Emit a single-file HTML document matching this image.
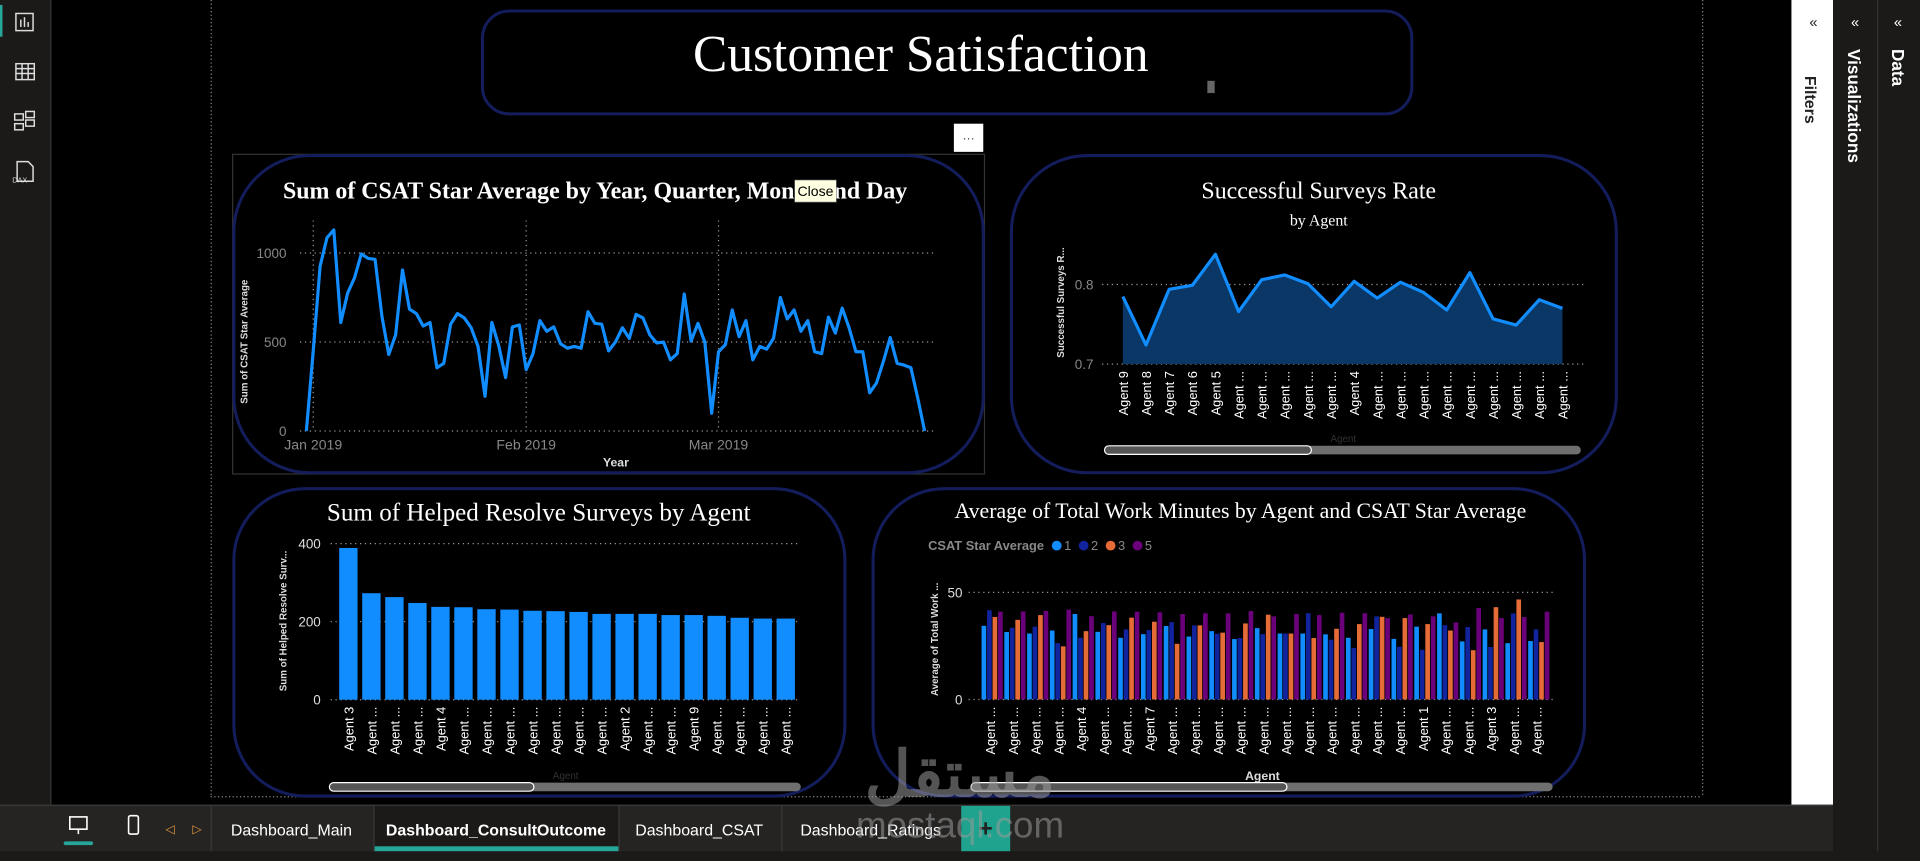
<!DOCTYPE html>
<html><head><meta charset="utf-8">
<style>
html,body{margin:0;padding:0;background:#000;overflow:hidden}
svg{display:block}
text{font-family:"Liberation Sans",sans-serif}
.serif{font-family:"Liberation Serif",serif}
.narrow{font-family:"Liberation Sans Narrow","Liberation Sans",sans-serif}
</style></head>
<body>
<svg id="root" width="1920" height="861" viewBox="0 0 1568 703" preserveAspectRatio="none" xmlns="http://www.w3.org/2000/svg">
  <rect x="0" y="0" width="1568" height="703" fill="#000"/>
  <g>
    <rect x="0" y="0" width="41" height="657" fill="#1b1a19"/>
    <rect x="41" y="0" width="1" height="657" fill="#3b3a39"/>
    <rect x="0" y="4" width="2" height="26" fill="#26a69a"/>
    <g stroke="#ddd" fill="none" stroke-width="1.2"><rect x="13" y="11" width="14" height="14"/><line x1="17" y1="22" x2="17" y2="16"/><line x1="20" y1="22" x2="20" y2="14"/><line x1="23" y1="22" x2="23" y2="18"/></g>
    <g stroke="#ddd" fill="none" stroke-width="1.2"><rect x="13" y="52" width="15" height="13"/><line x1="13" y1="56" x2="28" y2="56"/><line x1="13" y1="60" x2="28" y2="60"/><line x1="18" y1="52" x2="18" y2="65"/><line x1="23" y1="52" x2="23" y2="65"/></g>
    <g stroke="#ddd" fill="none" stroke-width="1.2"><rect x="12" y="93" width="7" height="5"/><rect x="21" y="91" width="7" height="5"/><rect x="21" y="98" width="7" height="5"/><rect x="12" y="101" width="7" height="5"/></g>
    <g><path d="M14 132h9l4 4v12h-13z" stroke="#ddd" fill="none" stroke-width="1.2"/><text x="10" y="149" font-size="6" fill="#ddd">DAX</text></g>
  </g>
  <g stroke="#888" stroke-dasharray="1,2" stroke-width="1">
    <line x1="172.5" y1="0" x2="172.5" y2="650"/>
    <line x1="1390.5" y1="0" x2="1390.5" y2="650"/>
    <line x1="172" y1="650.5" x2="1390" y2="650.5"/>
  </g>
  <g>
    <rect x="394" y="9" width="759" height="84" rx="22" fill="#000" stroke="#141d5c" stroke-width="2.5"/>
    <text class="serif" x="752" y="58" font-size="42" fill="#fff" text-anchor="middle">Customer Satisfaction</text>
    <rect x="986" y="66" width="6" height="10" fill="#666"/>
  </g>
  <g><rect x="779" y="101" width="24" height="23" fill="#fff"/><text x="791" y="116" font-size="10" fill="#333" text-anchor="middle">···</text></g>

  <rect x="190" y="126" width="614" height="261" fill="none" stroke="#333" stroke-width="1"/>
  <rect x="191" y="127" width="612" height="259" rx="62" fill="none" stroke="#141d5c" stroke-width="2.5"/>
  <rect x="826" y="127" width="494" height="259" rx="62" fill="none" stroke="#141d5c" stroke-width="2.5"/>
  <rect x="191" y="399" width="499" height="251" rx="58" fill="none" stroke="#141d5c" stroke-width="2.5"/>
  <rect x="713" y="399" width="581" height="251" rx="58" fill="none" stroke="#141d5c" stroke-width="2.5"/>

  <text class="serif" x="486" y="162" font-size="19.5" font-weight="bold" fill="#fff" text-anchor="middle">Sum of CSAT Star Average by Year, Quarter, Month and Day</text>
  <g><rect x="649" y="147" width="34" height="18" fill="#ffffe1" stroke="#777" stroke-width="0.5"/><text x="666" y="160" font-size="11.5" fill="#000" text-anchor="middle">Close</text></g>

  <text class="serif" x="1077" y="162" font-size="19.5" fill="#fff" text-anchor="middle">Successful Surveys Rate</text>
  <text class="serif" x="1077" y="184" font-size="13" fill="#fff" text-anchor="middle">by Agent</text>

  <text class="serif" x="440" y="425" font-size="20.5" fill="#fff" text-anchor="middle">Sum of Helped Resolve Surveys by Agent</text>
  <text class="serif" x="1013" y="423" font-size="17.8" fill="#fff" text-anchor="middle">Average of Total Work Minutes by Agent and CSAT Star Average</text>

  <g id="c1"></g><g id="c2"></g><g id="c3"></g><g id="c4"></g>

  <g><rect x="902" y="364" width="389" height="7" rx="3.5" fill="#6f6f6f"/><rect x="902" y="364" width="169" height="7" rx="3.5" fill="#555" stroke="#fff" stroke-width="1"/></g>
  <text x="1097" y="361" font-size="8" fill="#333" text-anchor="middle">Agent</text>
  <g><rect x="269" y="639" width="385" height="7" rx="3.5" fill="#6f6f6f"/><rect x="269" y="639" width="167" height="7" rx="3.5" fill="#555" stroke="#fff" stroke-width="1"/></g>
  <text x="462" y="636" font-size="8" fill="#333" text-anchor="middle">Agent</text>
  <g><rect x="793" y="639" width="475" height="7" rx="3.5" fill="#6f6f6f"/><rect x="793" y="639" width="258" height="7" rx="3.5" fill="#555" stroke="#fff" stroke-width="1"/></g>

  <g>
    <rect x="1463" y="0" width="34" height="658" fill="#fff"/>
    <text x="1481" y="22" font-size="12" fill="#222" text-anchor="middle">«</text>
    <text x="1474" y="62" font-size="13" font-weight="bold" fill="#222" transform="rotate(90 1474 62)">Filters</text>
  </g>
  <g>
    <rect x="1497" y="0" width="36" height="703" fill="#1b1a19"/>
    <rect x="1533" y="0" width="1" height="703" fill="#3b3a39"/>
    <text x="1515" y="22" font-size="12" fill="#fff" text-anchor="middle">«</text>
    <text x="1509" y="40" font-size="14" font-weight="bold" fill="#fff" transform="rotate(90 1509 40)">Visualizations</text>
  </g>
  <g>
    <rect x="1534" y="0" width="34" height="703" fill="#1b1a19"/>
    <text x="1550" y="22" font-size="12" fill="#fff" text-anchor="middle">«</text>
    <text x="1545" y="40" font-size="14" font-weight="bold" fill="#fff" transform="rotate(90 1545 40)">Data</text>
  </g>

  <g>
    <rect x="0" y="657" width="1497" height="39" fill="#252423"/>
    <rect x="0" y="695" width="1568" height="8" fill="#1b1a19"/>
    <rect x="0" y="657" width="1497" height="1" fill="#3b3a39"/>
    <g stroke="#fff" fill="none" stroke-width="1.3"><rect x="57" y="667" width="14" height="10"/><line x1="64" y1="677" x2="64" y2="681"/></g>
    <rect x="52" y="687" width="24" height="3" rx="1.5" fill="#26a69a"/>
    <g><rect x="105" y="666" width="8" height="15" rx="1.5" stroke="#fff" fill="none" stroke-width="1.3"/></g>
    <text x="139" y="680" font-size="10" fill="#e89a3c" text-anchor="middle">◁</text>
    <text x="161" y="680" font-size="10" fill="#e89a3c" text-anchor="middle">▷</text>
    <rect x="172" y="658" width="1" height="37" fill="#3b3a39"/>
    <rect x="305" y="658" width="1" height="37" fill="#3b3a39"/>
    <rect x="505" y="658" width="1" height="37" fill="#3b3a39"/>
    <rect x="638" y="658" width="1" height="37" fill="#3b3a39"/>
    <text class="narrow" x="238" y="682" font-size="13" fill="#fff" text-anchor="middle">Dashboard_Main</text>
    <rect x="306" y="658" width="199" height="37" fill="#1b1a19"/>
    <text class="narrow" x="405" y="682" font-size="13" font-weight="bold" fill="#fff" text-anchor="middle">Dashboard_ConsultOutcome</text>
    <rect x="306" y="691" width="199" height="4" fill="#26a69a"/>
    <text class="narrow" x="571" y="682" font-size="13" fill="#fff" text-anchor="middle">Dashboard_CSAT</text>
    <text class="narrow" x="711" y="682" font-size="13" fill="#fff" text-anchor="middle">Dashboard_Ratings</text>
    <g><rect x="785" y="658" width="40" height="37" fill="#1fa38e"/><text x="805" y="683" font-size="20" font-weight="bold" fill="#222" text-anchor="middle">+</text></g>
  </g>
  <g opacity="0.55">
    <text x="784" y="650" font-size="52" font-weight="bold" fill="#9a9a9a" text-anchor="middle" font-family="'Liberation Sans','DejaVu Sans',sans-serif">مستقل</text>
    <text class="narrow" x="784" y="684" font-size="30" fill="#9a9a9a" text-anchor="middle">mostaql.com</text>
  </g>
</svg>
<script>
const c1Values = [0,450,925,1085,1130,610,775,860,995,970,965,645,430,540,905,685,660,590,610,355,380,600,660,635,580,475,195,610,480,300,585,595,345,435,620,560,585,490,465,475,465,670,605,600,450,500,580,520,655,635,540,495,500,400,435,770,505,605,500,100,445,485,680,530,620,400,475,460,520,750,630,680,560,620,445,435,640,550,690,580,445,445,215,270,390,525,380,370,355,185,0];
const c1Ticks = [0,500,1000];
const c1XLabels = ["Jan 2019","Feb 2019","Mar 2019"];
const c1XLabelDays = [1,32,60];
const c2Agents = ["Agent 9","Agent 8","Agent 7","Agent 6","Agent 5","Agent ...","Agent ...","Agent ...","Agent ...","Agent ...","Agent 4","Agent ...","Agent ...","Agent ...","Agent ...","Agent ...","Agent ...","Agent ...","Agent ...","Agent ..."];
const c2Values = [0.785,0.724,0.794,0.799,0.838,0.766,0.806,0.812,0.801,0.772,0.804,0.783,0.803,0.790,0.768,0.815,0.757,0.749,0.781,0.770];
const c2Ticks = [0.7,0.8];
const c3Agents = ["Agent 3","Agent ...","Agent ...","Agent ...","Agent 4","Agent ...","Agent ...","Agent ...","Agent ...","Agent ...","Agent ...","Agent ...","Agent 2","Agent ...","Agent ...","Agent 9","Agent ...","Agent ...","Agent ...","Agent ..."];
const c3Values = [389,273,263,248,238,237,232,231,228,227,225,220,220,220,217,217,215,210,208,208];
const c3Ticks = [0,200,400];
const c4Agents = ["Agent ...","Agent ...","Agent ...","Agent ...","Agent 4","Agent ...","Agent ...","Agent 7","Agent ...","Agent ...","Agent ...","Agent ...","Agent ...","Agent ...","Agent ...","Agent ...","Agent ...","Agent ...","Agent ...","Agent 1","Agent ...","Agent ...","Agent 3","Agent ...","Agent ..."];
const c4Series = ["1","2","3","5"];
const c4S1 = [34.4,31.5,30.8,32.2,39.9,31.6,28.8,30.5,34.3,29.4,31.9,28.2,33.3,30.8,30.8,30.4,28.8,32.9,28.3,34.0,40.2,27.1,32.7,26.3,27.3];
const c4S2 = [41.7,33.5,34.0,26.3,28.8,35.7,32.7,32.4,36.1,34.6,30.7,28.7,30.5,30.8,40.3,27.9,24.0,38.8,24.6,23.2,34.7,33.8,24.5,40.2,32.7];
const c4S3 = [38.5,37.2,39.4,24.8,31.9,34.7,38.2,36.3,26.0,34.6,31.2,35.5,39.6,30.8,28.7,33.0,35.2,38.6,38.0,35.2,32.2,23.0,43.1,46.7,26.8];
const c4S5 = [41.0,41.1,41.4,42.0,38.9,41.1,41.0,40.7,39.9,40.3,40.2,41.3,38.8,39.9,39.4,40.5,40.3,38.0,39.7,38.8,36.0,42.7,38.0,38.5,41.0];
const c4Ticks = [0,50];

const NS = "http://www.w3.org/2000/svg";
function mk(parent, tag, attrs, txt){
  const e = document.createElementNS(NS, tag);
  for (const k in attrs) e.setAttribute(k, attrs[k]);
  if (txt !== undefined) e.textContent = txt;
  parent.appendChild(e);
  return e;
}
function linear(d0,d1,r0,r1){ return v => r0 + (v-d0)*(r1-r0)/(d1-d0); }

(function(){
  const g = document.getElementById('c1');
  const x = linear(0, c1Values.length-1, 250.2, 755.1);
  const y = linear(0, 1000, 351.9, 206.6);
  c1Ticks.forEach(t=>{
    const gl = mk(g,'line',{x1:245,x2:765,y1:y(t),y2:y(t),stroke:'#999','stroke-dasharray':'1,3','stroke-width':1});
    
    
    const tl = mk(g,'text',{x:234,y:y(t)+4,'font-size':11,fill:'#888','text-anchor':'end',class:'narrow'},String(t));
    
    
  });
  c1XLabels.forEach((lab,i)=>{
    const xx = x(c1XLabelDays[i]);
    const vl = mk(g,'line',{x1:xx,x2:xx,y1:180,y2:352,stroke:'#999','stroke-dasharray':'1,3','stroke-width':1});
    
    
    const tl = mk(g,'text',{x:xx,y:367,'font-size':11.5,fill:'#888','text-anchor':'middle',class:'narrow'},lab);
    
    
  });
  const pts = c1Values.map((v,i)=>x(i).toFixed(1)+','+y(v).toFixed(1)).join(' ');
  const ln = mk(g,'polyline',{points:pts,fill:'none',stroke:'#118dff','stroke-width':2.6,'stroke-linejoin':'round'});
  
  
  const xt = mk(g,'text',{x:503,y:381,'font-size':10,'font-weight':'bold',fill:'#ddd','text-anchor':'middle',class:'narrow'},'Year');
  
  
  const yt = mk(g,'text',{x:0,y:0,'font-size':8,'font-weight':'bold',fill:'#ddd','text-anchor':'middle',transform:'translate(202,279) rotate(-90)'},'Sum of CSAT Star Average');
  
  
})();

(function(){
  const g = document.getElementById('c2');
  const step = (1276-917)/(c2Agents.length-1);
  const x = i => 917 + i*step;
  const y = linear(0.7, 0.8, 297.3, 232.3);
  c2Ticks.forEach(t=>{
    const gl = mk(g,'line',{x1:900,x2:1293,y1:y(t),y2:y(t),stroke:'#999','stroke-dasharray':'1,3','stroke-width':1});
    
    
    const tl = mk(g,'text',{x:893,y:y(t)+4,'font-size':11,fill:'#888','text-anchor':'end',class:'narrow'},t.toFixed(1));
    
    
  });
  let d = 'M'+x(0)+','+y(0.7);
  c2Values.forEach((v,i)=>{ d += ' L'+x(i).toFixed(1)+','+y(v).toFixed(1); });
  d += ' L'+x(c2Values.length-1)+','+y(0.7)+' Z';
  const ar = mk(g,'path',{d:d,fill:'#0a3766'});
  
  
  const pts = c2Values.map((v,i)=>x(i).toFixed(1)+','+y(v).toFixed(1)).join(' ');
  const ln = mk(g,'polyline',{points:pts,fill:'none',stroke:'#118dff','stroke-width':2.6,'stroke-linejoin':'round'});
  
  
  c2Agents.forEach((a,i)=>{
    const t = mk(g,'text',{x:0,y:0,'font-size':10.5,fill:'#fff','text-anchor':'end',class:'narrow',transform:`translate(${x(i)+4},303) rotate(-90)`},a);
    
    
  });
  const yt = mk(g,'text',{x:0,y:0,'font-size':8,'font-weight':'bold',fill:'#ddd','text-anchor':'middle',transform:'translate(869,247) rotate(-90)'},'Successful Surveys R...');
  
  
})();

(function(){
  const g = document.getElementById('c3');
  const step = 18.8, bw = 15;
  const x = i => 277 + i*step;
  const y = linear(0, 400, 571.3, 443.9);
  c3Ticks.forEach(t=>{
    const gl = mk(g,'line',{x1:270,x2:652,y1:y(t),y2:y(t),stroke:'#999','stroke-dasharray':'1,3','stroke-width':1});
    
    
    const tl = mk(g,'text',{x:262,y:y(t)+4,'font-size':11,fill:'#ddd','text-anchor':'end',class:'narrow'},String(t));
    
    
  });
  c3Values.forEach((v,i)=>{
    const b = mk(g,'rect',{x:x(i),y:y(v),width:bw,height:y(0)-y(v),fill:'#118dff'});
    
    
  });
  c3Agents.forEach((a,i)=>{
    const t = mk(g,'text',{x:0,y:0,'font-size':10.5,fill:'#fff','text-anchor':'end',class:'narrow',transform:`translate(${x(i)+bw/2+4},577) rotate(-90)`},a);
    
    
  });
  const yt = mk(g,'text',{x:0,y:0,'font-size':8,'font-weight':'bold',fill:'#ddd','text-anchor':'middle',transform:'translate(234,507) rotate(-90)'},'Sum of Helped Resolve Surv...');
  
  
})();

(function(){
  const g = document.getElementById('c4');
  const colors = ['#118dff','#12239e','#e66c37','#6b007b'];
  const series = [c4S1,c4S2,c4S3,c4S5];
  const step = 18.6, bw = 3.8;
  const x = i => 801.6 + i*step;
  const y = linear(0, 50, 571.1, 483.7);
  c4Ticks.forEach(t=>{
    const gl = mk(g,'line',{x1:791,x2:1268,y1:y(t),y2:y(t),stroke:'#999','stroke-dasharray':'1,3','stroke-width':1});
    
    
    const tl = mk(g,'text',{x:786,y:y(t)+4,'font-size':11,fill:'#ddd','text-anchor':'end',class:'narrow'},String(t));
    
    
  });
  series.forEach((vals,s)=>{
    vals.forEach((v,i)=>{
      const b = mk(g,'rect',{x:x(i)+s*4.5,y:y(v),width:bw,height:y(0)-y(v),fill:colors[s]});
      
      
    });
  });
  c4Agents.forEach((a,i)=>{
    const t = mk(g,'text',{x:0,y:0,'font-size':10.5,fill:'#fff','text-anchor':'end',class:'narrow',transform:`translate(${x(i)+11},577) rotate(-90)`},a);
    
    
  });
  const lt = mk(g,'text',{x:758,y:449,'font-size':10.5,'font-weight':'bold',fill:'#888',class:'narrow'},'CSAT Star Average');
  
  
  c4Series.forEach((s,i)=>{
    const cx = 863 + i*22;
    const dot = mk(g,'circle',{cx:cx,cy:445.5,r:4,fill:colors[i]});
    
    
    const lb = mk(g,'text',{x:cx+6,y:449,'font-size':10.5,fill:'#888',class:'narrow'},s);
    
    
  });
  const yt = mk(g,'text',{x:0,y:0,'font-size':8,'font-weight':'bold',fill:'#ddd','text-anchor':'middle',transform:'translate(766,522) rotate(-90)'},'Average of Total Work ...');
  
  
  const xt = mk(g,'text',{x:1031,y:637,'font-size':10,'font-weight':'bold',fill:'#ddd','text-anchor':'middle',class:'narrow'},'Agent');
  
  
})();
</script>
</body></html>
